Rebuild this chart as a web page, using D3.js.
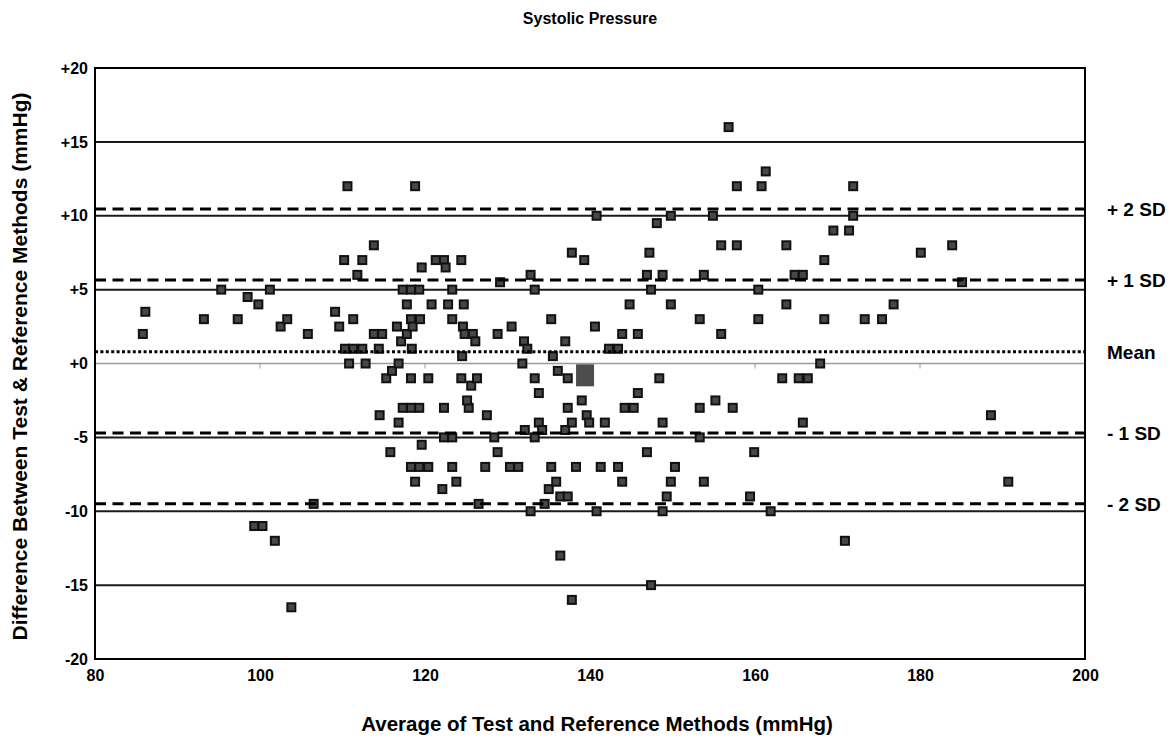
<!DOCTYPE html>
<html>
<head>
<meta charset="utf-8">
<script src="https://cdn.jsdelivr.net/npm/d3@7/dist/d3.min.js"></script>
<style>
  html, body { margin: 0; padding: 0; background: #fff; }
  svg { display: block; font-family: "Liberation Sans", Arial, sans-serif; }
</style>
</head>
<body>
<svg id="chart" width="1174" height="740"></svg>
<script>
// Bland-Altman data: average of both methods (mmHg) and the difference test - reference (mmHg)
const avgValues = [
  85.8, 86.1, 93.2, 95.3, 97.3, 98.5, 99.8, 101.2, 102.5, 103.3, 105.8, 99.3, 100.3, 101.8, 103.8, 106.5,
  109.1, 109.6, 110.2, 110.6, 110.3, 110.8, 111.3, 111.3, 111.8, 112.4, 112.4, 112.8, 113.8, 113.8, 114.4, 114.8,
  114.5, 115.3, 115.8, 116.0, 116.6, 116.8, 116.8, 117.1, 117.3, 117.3, 117.8, 117.8, 118.3, 118.4, 118.3, 118.3,
  118.3, 118.3, 118.5, 118.8, 118.8, 119.3, 119.3, 119.3, 119.4, 119.6, 119.6, 120.4, 120.4, 120.8, 121.3, 122.3,
  122.5, 122.8, 122.3, 122.3, 122.1, 123.3, 123.3, 123.3, 123.3, 123.8, 124.4, 124.7, 124.6, 124.8, 124.5, 124.4,
  125.8, 125.3, 125.1, 125.6, 126.1, 126.3, 126.5, 127.3, 127.5, 128.4, 128.8, 128.8, 129.1, 130.3, 130.5, 131.3,
  131.8, 132.0, 132.4, 132.1, 132.8, 132.8, 133.3, 133.3, 133.3, 133.8, 133.8, 134.2, 134.5, 135.0, 135.3, 135.3,
  135.5, 135.9, 136.1, 136.4, 136.4, 137.0, 137.0, 137.3, 137.3, 137.3, 137.8, 137.8, 138.3, 137.8, 139.3, 139.0,
  139.6, 139.9, 140.6, 140.8, 140.8, 141.3, 141.8, 142.3, 143.4, 143.4, 143.9, 143.9, 144.8, 144.2, 145.3, 145.8,
  145.8, 146.9, 146.9, 147.2, 147.4, 147.4, 148.1, 148.4, 148.8, 148.8, 148.8, 149.3, 149.8, 149.8, 149.8, 150.3,
  153.3, 153.3, 153.3, 153.8, 153.8, 154.9, 155.2, 155.9, 155.9, 156.8, 157.3, 157.8, 157.8, 159.4, 159.9, 160.4,
  160.4, 160.8, 161.3, 161.9, 163.3, 163.8, 163.8, 164.8, 165.3, 165.8, 165.8, 166.4, 167.9, 168.4, 168.4, 169.5,
  170.9, 171.4, 171.9, 171.9, 173.3, 175.4, 176.8, 180.1, 183.9, 185.1, 188.6, 190.7
];
const diffValues = [
  2.0, 3.5, 3.0, 5.0, 3.0, 4.5, 4.0, 5.0, 2.5, 3.0, 2.0, -11.0, -11.0, -12.0, -16.5, -9.5,
  3.5, 2.5, 7.0, 12.0, 1.0, 0.0, 3.0, 1.0, 6.0, 7.0, 1.0, 0.0, 8.0, 2.0, 1.0, 2.0,
  -3.5, -1.0, -6.0, -0.5, 2.5, 0.0, -4.0, 1.5, 5.0, -3.0, 2.0, 4.0, 5.0, 1.0, -1.0, -7.0,
  -3.0, 3.0, 2.5, 12.0, -8.0, -7.0, -3.0, 5.0, 3.0, 6.5, -5.5, -1.0, -7.0, 4.0, 7.0, 7.0,
  6.5, 4.0, -3.0, -5.0, -8.5, 5.0, 3.0, -5.0, -7.0, -8.0, 7.0, 4.0, 2.5, 2.0, 0.5, -1.0,
  2.0, -3.0, -2.5, -1.5, 1.5, -1.0, -9.5, -7.0, -3.5, -5.0, -6.0, 2.0, 5.5, -7.0, 2.5, -7.0,
  0.0, 1.5, 1.0, -4.5, 6.0, -10.0, 5.0, -1.0, -5.0, -2.0, -4.0, -4.5, -9.5, -8.5, 3.0, -7.0,
  0.5, -8.0, -0.5, -9.0, -13.0, 1.5, -4.5, -1.0, -3.0, -9.0, 7.5, -4.0, -7.0, -16.0, 7.0, -2.5,
  -3.5, -4.0, 2.5, 10.0, -10.0, -7.0, -4.0, 1.0, 1.0, -7.0, 2.0, -8.0, 4.0, -3.0, -3.0, 2.0,
  -2.0, 6.0, -6.0, 7.5, 5.0, -15.0, 9.5, -1.0, 6.0, -4.0, -10.0, -9.0, 10.0, 4.0, -8.0, -7.0,
  3.0, -3.0, -5.0, 6.0, -8.0, 10.0, -2.5, 8.0, 2.0, 16.0, -3.0, 12.0, 8.0, -9.0, -6.0, 5.0,
  3.0, 12.0, 13.0, -10.0, -1.0, 8.0, 4.0, 6.0, -1.0, 6.0, -4.0, -1.0, 0.0, 7.0, 3.0, 9.0,
  -12.0, 9.0, 10.0, 12.0, 3.0, 3.0, 4.0, 7.5, 8.0, 5.5, -3.5, -8.0
];

// Enlarged marker drawn over the cloud
const highlightAvg = [139.4];
const highlightDiff = [-0.8];

// Axis ticks
const xTicks = [80, 100, 120, 140, 160, 180, 200];
const yTicks = [20, 15, 10, 5, 0, -5, -10, -15, -20];
const gridValues = [15, 10, 5, -5, -10, -15];

// Mean and limits of agreement
const refLabels = ["+ 2 SD", "+ 1 SD", "Mean", "- 1 SD", "- 2 SD"];
const refValues = [10.45, 5.65, 0.8, -4.7, -9.5];

const svg = d3.select("#chart");
const margin = { left: 95, right: 89, top: 68, bottom: 81 };
const W = 1174, H = 740;
const x = d3.scaleLinear().domain([80, 200]).range([margin.left, W - margin.right]);
const y = d3.scaleLinear().domain([-20, 20]).range([H - margin.bottom, margin.top]);

// Title
svg.append("text")
  .attr("x", 590).attr("y", 24)
  .attr("text-anchor", "middle")
  .attr("font-size", 16).attr("font-weight", "bold")
  .text("Systolic Pressure");

// Solid reference grid
svg.append("g").selectAll("line").data(gridValues).join("line")
  .attr("x1", x(80)).attr("x2", x(200))
  .attr("y1", d => y(d)).attr("y2", d => y(d))
  .attr("stroke", "#1a1a1a").attr("stroke-width", 2);

// Zero line with small ticks
svg.append("line")
  .attr("x1", x(80)).attr("x2", x(200))
  .attr("y1", y(0)).attr("y2", y(0))
  .attr("stroke", "#9a9a9a").attr("stroke-width", 1.5);
svg.append("g").selectAll("line").data(xTicks.slice(1, -1)).join("line")
  .attr("x1", d => x(d)).attr("x2", d => x(d))
  .attr("y1", y(0)).attr("y2", y(0) + 5)
  .attr("stroke", "#9a9a9a").attr("stroke-width", 1);

// Data points
const pts = avgValues.map((a, i) => ({ a, d: diffValues[i] }));
const s = 8;
svg.append("g").selectAll("rect").data(pts).join("rect")
  .attr("x", p => x(p.a) - s / 2)
  .attr("y", p => y(p.d) - s / 2)
  .attr("width", s).attr("height", s)
  .attr("fill", "#474747")
  .attr("stroke", "#111").attr("stroke-width", 2);

// Enlarged marker
svg.append("g").selectAll("rect").data(highlightAvg.map((a, i) => ({ a, d: highlightDiff[i] }))).join("rect")
  .attr("x", p => x(p.a) - 9)
  .attr("y", p => y(p.d) - 11)
  .attr("width", 18).attr("height", 22)
  .attr("fill", "#4d4d4d");

// Mean (dotted) and SD (dashed) lines
svg.append("g").selectAll("line").data(refValues).join("line")
  .attr("x1", x(80)).attr("x2", x(200))
  .attr("y1", d => y(d)).attr("y2", d => y(d))
  .attr("stroke", "#000")
  .attr("stroke-width", 3)
  .attr("stroke-dasharray", (d, i) => i === 2 ? "3,2.4" : "11,6.5");

// Reference labels on the right
svg.append("g").selectAll("text").data(refValues).join("text")
  .attr("x", 1107)
  .attr("y", d => y(d) + 7)
  .attr("font-size", 19).attr("font-weight", "bold")
  .text((d, i) => refLabels[i]);

// Plot frame
svg.append("rect")
  .attr("x", x(80)).attr("y", y(20))
  .attr("width", x(200) - x(80)).attr("height", y(-20) - y(20))
  .attr("fill", "none").attr("stroke", "#000").attr("stroke-width", 2);

// Axes (labels only)
const xAxis = svg.append("g")
  .attr("transform", `translate(0,${y(-20)})`)
  .call(d3.axisBottom(x).tickValues(xTicks).tickSize(0).tickPadding(11).tickFormat(d3.format("d")));
xAxis.select(".domain").remove();
xAxis.selectAll("text").attr("font-size", 16).attr("font-weight", "bold")
  .attr("font-family", "Liberation Sans, Arial, sans-serif").attr("fill", "#000");

const yAxis = svg.append("g")
  .attr("transform", `translate(${x(80)},0)`)
  .call(d3.axisLeft(y).tickValues(yTicks).tickSize(0).tickPadding(7)
    .tickFormat(d => (d >= 0 ? "+" : "") + d));
yAxis.select(".domain").remove();
yAxis.selectAll("text").attr("font-size", 16).attr("font-weight", "bold")
  .attr("font-family", "Liberation Sans, Arial, sans-serif").attr("fill", "#000");

// Axis titles
svg.append("text")
  .attr("x", 597).attr("y", 731)
  .attr("text-anchor", "middle")
  .attr("font-size", 20.5).attr("font-weight", "bold")
  .text("Average of Test and Reference Methods (mmHg)");

svg.append("text")
  .attr("transform", `translate(27,${(y(20) + y(-20)) / 2 + 3}) rotate(-90)`)
  .attr("text-anchor", "middle")
  .attr("font-size", 21).attr("font-weight", "bold")
  .text("Difference Between Test & Reference Methods (mmHg)");
</script>
</body>
</html>
